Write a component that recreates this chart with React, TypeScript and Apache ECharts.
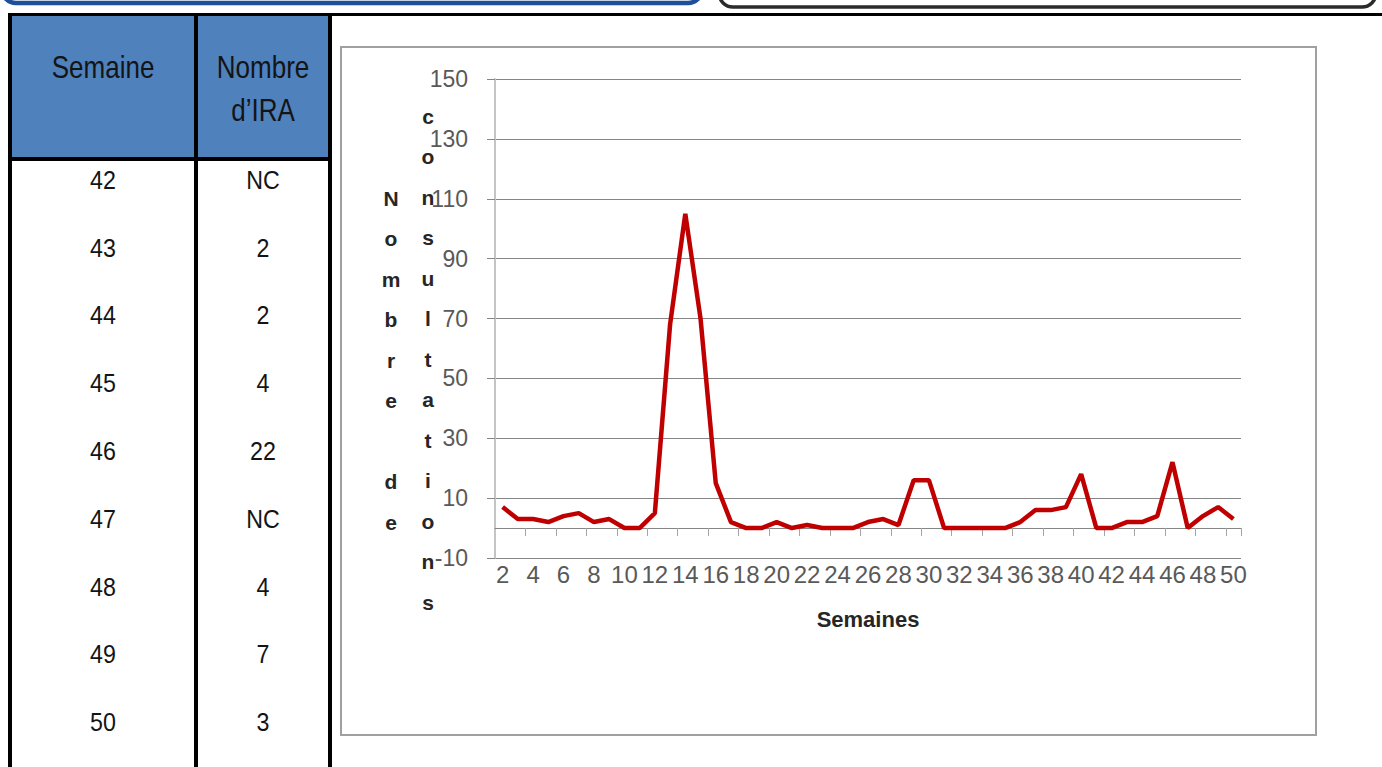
import React, { useEffect, useRef } from "react";
import * as echarts from "echarts";

// ---- Chart data ----
const weeks: string[] = [
  "2", "3", "4", "5", "6", "7", "8", "9", "10", "11",
  "12", "13", "14", "15", "16", "17", "18", "19", "20", "21",
  "22", "23", "24", "25", "26", "27", "28", "29", "30", "31",
  "32", "33", "34", "35", "36", "37", "38", "39", "40", "41",
  "42", "43", "44", "45", "46", "47", "48", "49", "50",
];
const consultations: number[] = [
  7, 3, 3, 2, 4, 5, 2, 3, 0, 0,
  5, 68, 105, 70, 15, 2, 0, 0, 2, 0,
  1, 0, 0, 0, 2, 3, 1, 16, 16, 0,
  0, 0, 0, 0, 2, 6, 6, 7, 18, 0,
  0, 2, 2, 4, 22, 0, 4, 7, 3,
];
const yMin = -10;
const yMax = 150;
const yStep = 20;
const xAxisTitle = "Semaines";
const yAxisTitleColumns: string[] = ["Nombre de", "consultations"];

// ---- Table data ----
const tableHeaderWeek = "Semaine";
const tableHeaderIRA: string[] = ["Nombre", "d’IRA"];
const tableWeeks: string[] = ["42", "43", "44", "45", "46", "47", "48", "49", "50"];
const tableIRA: string[] = ["NC", "2", "2", "4", "22", "NC", "4", "7", "3"];

const TABLE_FONT = '"Liberation Sans", Arial, sans-serif';
const CHART_FONT = '"Liberation Sans", Arial, sans-serif';

export default function App() {
  const ref = useRef<HTMLDivElement>(null);

  useEffect(() => {
    if (!ref.current) return;
    const chart = echarts.init(ref.current, undefined, { renderer: "svg" });

    const graphics: any[] = [];
    // cut-off frames at the very top
    graphics.push({
      type: "rect",
      shape: { x: 2, y: -40, width: 700, height: 43, r: 14 },
      style: { fill: "none", stroke: "#1f4f9a", lineWidth: 4.5 },
    });
    graphics.push({
      type: "rect",
      shape: { x: 719, y: -40, width: 657, height: 47, r: 14 },
      style: { fill: "none", stroke: "#2b2b2b", lineWidth: 3.5 },
    });
    // table header fill
    graphics.push({
      type: "rect",
      shape: { x: 12, y: 16, width: 316, height: 141 },
      style: { fill: "#4f81bd" },
    });
    // table borders
    const borders = [
      { x: 8, y: 13, width: 1374, height: 3 },
      { x: 8, y: 13, width: 4, height: 760 },
      { x: 194, y: 13, width: 4, height: 760 },
      { x: 328, y: 13, width: 4, height: 760 },
      { x: 8, y: 157, width: 324, height: 4 },
    ];
    borders.forEach((b) =>
      graphics.push({ type: "rect", shape: b, style: { fill: "#000" } })
    );
    // header texts (condensed look)
    const headerStyle = { font: `31px ${TABLE_FONT}`, fill: "#141414", textAlign: "center", textVerticalAlign: "middle" };
    graphics.push({ type: "text", x: 103, y: 67, scaleX: 0.84, style: { ...headerStyle, text: tableHeaderWeek } });
    tableHeaderIRA.forEach((t, i) =>
      graphics.push({ type: "text", x: 263, y: 67 + i * 43, scaleX: 0.84, style: { ...headerStyle, text: t } })
    );
    // rows
    const rowStyle = { font: `25px ${TABLE_FONT}`, fill: "#141414", textAlign: "center", textVerticalAlign: "middle" };
    tableWeeks.forEach((w, i) => {
      const y = 180 + i * 67.8;
      graphics.push({ type: "text", x: 103, y, scaleX: 0.93, style: { ...rowStyle, text: w } });
      graphics.push({ type: "text", x: 263, y, scaleX: 0.93, style: { ...rowStyle, text: tableIRA[i] } });
    });
    // chart box
    graphics.push({
      type: "rect",
      shape: { x: 341, y: 47, width: 975, height: 688 },
      style: { fill: "none", stroke: "#a0a0a0", lineWidth: 2 },
    });
    // stacked y-axis title (two columns)
    const colX = [391, 428];
    const colTop = [198 - 20.25, 116 - 20.25];
    yAxisTitleColumns.forEach((t, i) =>
      graphics.push({
        type: "text",
        x: colX[i],
        y: colTop[i],
        style: {
          text: t.split("").join("\n"),
          font: `bold 21px ${CHART_FONT}`,
          lineHeight: 40.5,
          fill: "#262626",
          textAlign: "center",
          textVerticalAlign: "top",
        },
      })
    );

    chart.setOption({
      animation: false,
      backgroundColor: "#ffffff",
      grid: { left: 495, right: 141, top: 79, bottom: 209, containLabel: false },
      xAxis: [
        {
          type: "category",
          data: weeks,
          position: "bottom",
          boundaryGap: true,
          axisLine: { show: true, onZero: true, lineStyle: { color: "#868686", width: 1 } },
          axisTick: {
            show: true,
            length: 8,
            interval: (i: number) => i % 2 === 0 && i > 0,
            lineStyle: { color: "#a6a6a6" },
          },
          axisLabel: { show: false },
          splitLine: { show: false },
        },
        {
          type: "category",
          data: weeks,
          position: "bottom",
          boundaryGap: true,
          axisLine: { show: false, onZero: false },
          axisTick: { show: false },
          axisLabel: { interval: 1, fontSize: 24, color: "#595959", margin: 4, fontFamily: CHART_FONT },
          splitLine: { show: false },
          name: xAxisTitle,
          nameLocation: "middle",
          nameGap: 50,
          nameTextStyle: { fontSize: 22, fontWeight: "bold", color: "#262626", fontFamily: CHART_FONT },
        },
      ],
      yAxis: {
        type: "value",
        min: yMin,
        max: yMax,
        interval: yStep,
        axisLine: { show: true, onZero: false, lineStyle: { color: "#c4c4c4", width: 2 } },
        axisTick: { show: true, length: 8, lineStyle: { color: "#868686" } },
        axisLabel: { fontSize: 23, color: "#595959", margin: 27, fontFamily: CHART_FONT },
        splitLine: { show: true, lineStyle: { color: "#868686", width: 1 } },
      },
      graphic: graphics,
      series: [
        {
          type: "line",
          data: consultations,
          xAxisIndex: 0,
          yAxisIndex: 0,
          symbol: "none",
          z: 5,
          lineStyle: { color: "#c00000", width: 4.5 },
        },
      ],
    });

    return () => chart.dispose();
  }, []);

  return (
    <div
      ref={ref}
      style={{ position: "fixed", left: 0, top: 0, width: 1382, height: 767, background: "#fff" }}
    />
  );
}
